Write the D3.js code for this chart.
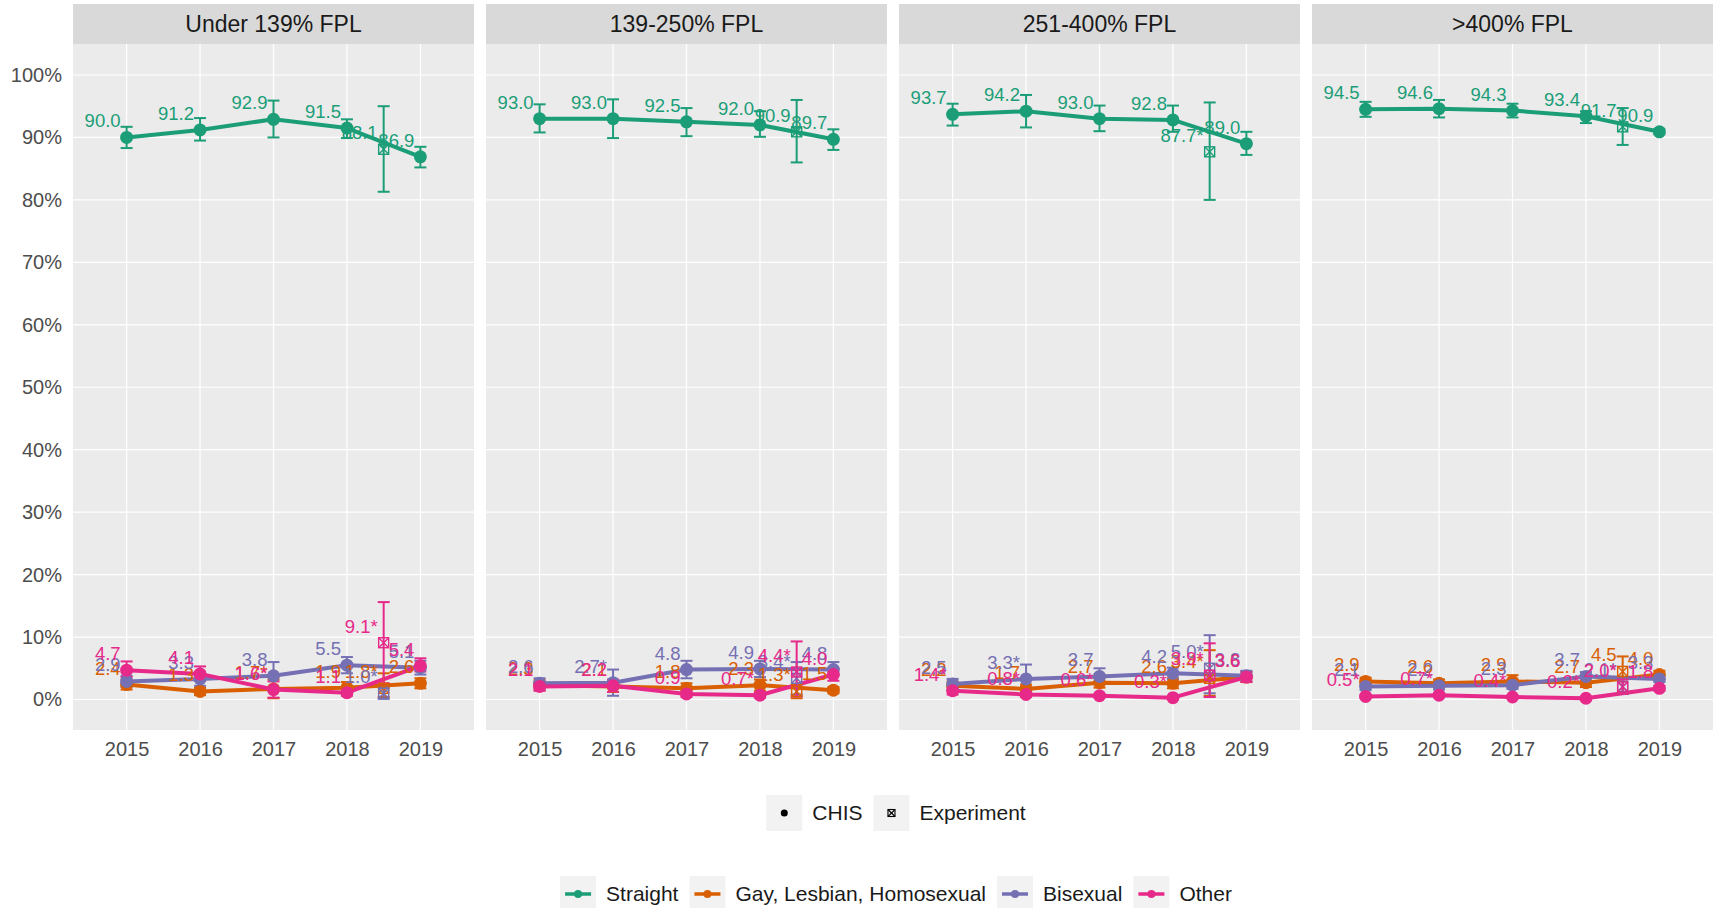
<!DOCTYPE html>
<html><head><meta charset="utf-8">
<script src="https://cdn.jsdelivr.net/npm/d3@7"></script>
<style>
body{margin:0;background:#fff;}
svg{display:block;font-family:"Liberation Sans",Arial,sans-serif;}
</style>
</head><body>
<svg id="chart" width="1713" height="908"></svg>
<script>
// ---------- data ----------
const years = [2015, 2016, 2017, 2018, 2019];
const experimentYear = 2018.5;
const panelNames = ["Under 139% FPL", "139-250% FPL", "251-400% FPL", ">400% FPL"];
const seriesNames = ["Straight", "Gay, Lesbian, Homosexual", "Bisexual", "Other"];
const seriesColors = ["#1B9E77", "#D95F02", "#7570B3", "#E7298A"];
const yTickValues = [0, 10, 20, 30, 40, 50, 60, 70, 80, 90, 100];
const shapeNames = ["CHIS", "Experiment"];

// CHIS estimates: one row per panel, one entry per year
const straightValue = [[90.0,91.2,92.9,91.5,86.9],[93.0,93.0,92.5,92.0,89.7],[93.7,94.2,93.0,92.8,89.0],[94.5,94.6,94.3,93.4,90.9]];
const straightLow   = [[88.3,89.5,90.0,89.9,85.2],[90.8,89.9,90.2,90.1,88.0],[91.9,91.6,91.0,90.9,87.2],[93.3,93.2,93.2,92.3,90.5]];
const straightHigh  = [[91.7,93.1,95.9,92.9,88.5],[95.3,96.1,94.7,94.2,91.3],[95.4,96.8,95.1,95.1,90.9],[95.7,96.0,95.4,94.2,91.3]];
const straightStar  = [[0,0,0,0,0],[0,0,0,0,0],[0,0,0,0,0],[0,0,0,0,0]];

const gayValue = [[2.4,1.3,1.7,1.9,2.6],[2.3,2.1,1.8,2.3,1.5],[2.2,1.7,2.7,2.6,3.6],[2.9,2.6,2.9,2.7,4.0]];
const gayLow   = [[1.6,0.7,0.2,1.0,1.8],[1.5,1.2,1.0,1.4,1.0],[1.5,1.0,1.9,1.8,2.8],[2.3,2.0,2.1,2.0,3.4]];
const gayHigh  = [[3.2,1.9,3.2,2.8,3.4],[3.1,3.0,2.6,3.2,2.0],[2.9,2.4,3.5,3.4,4.4],[3.5,3.2,3.9,3.4,4.6]];
const gayStar  = [[0,0,1,0,0],[0,0,0,0,0],[0,0,0,0,0],[0,0,0,0,0]];

const bisexualValue = [[2.9,3.3,3.8,5.5,5.1],[2.6,2.7,4.8,4.9,4.8],[2.5,3.3,3.7,4.2,3.8],[2.1,2.2,2.3,3.7,3.3]];
const bisexualLow   = [[2.0,2.2,1.6,4.2,4.0],[1.8,0.6,3.4,3.6,4.0],[1.7,2.0,2.6,3.3,3.0],[1.5,1.6,1.7,3.0,2.8]];
const bisexualHigh  = [[3.8,4.4,6.0,6.8,6.2],[3.4,4.8,6.2,6.2,6.0],[3.3,5.6,5.0,5.1,4.6],[2.7,2.8,2.9,4.4,3.8]];
const bisexualStar  = [[0,0,0,0,0],[0,1,0,0,0],[0,1,0,0,0],[0,0,0,0,0]];

const otherValue = [[4.7,4.1,1.6,1.1,5.4],[2.1,2.2,0.9,0.7,4.0],[1.4,0.8,0.6,0.3,3.6],[0.5,0.7,0.4,0.2,1.8]];
const otherLow   = [[3.6,3.0,0.3,0.6,4.5],[1.4,1.2,0.4,0.3,3.0],[0.8,0.4,0.3,0.1,2.8],[0.3,0.4,0.2,0.1,1.4]];
const otherHigh  = [[6.1,5.3,2.9,1.6,6.6],[2.8,3.2,1.4,1.1,5.0],[2.0,1.2,0.9,0.5,4.4],[0.7,1.0,0.6,0.3,2.2]];
const otherStar  = [[0,0,1,0,0],[0,0,0,1,0],[1,1,1,1,0],[1,1,1,1,0]];

// Experiment estimates: one entry per panel
const expStraightValue = [88.1, 90.9, 87.7, 91.7];
const expStraightLow   = [81.3, 86.0, 80.0, 88.8];
const expStraightHigh  = [95.0, 96.0, 95.6, 94.7];
const expStraightStar  = [0, 0, 1, 0];

const expGayValue = [1.8, 1.3, 3.4, 4.5];
const expGayLow   = [0.4, 0.2, 0.6, 1.0];
const expGayHigh  = [4.2, 2.4, 7.9, 6.9];
const expGayStar  = [1, 1, 1, 0];

const expBisexualValue = [1.0, 3.4, 5.0, 2.1];
const expBisexualLow   = [0.1, 0.8, 1.0, 0.9];
const expBisexualHigh  = [1.9, 6.0, 10.3, 3.3];
const expBisexualStar  = [1, 1, 1, 1];

const expOtherValue = [9.1, 4.4, 3.9, 2.0];
const expOtherLow   = [2.6, 0.5, 0.4, 0.9];
const expOtherHigh  = [15.6, 9.3, 9.0, 3.2];
const expOtherStar  = [1, 1, 1, 1];

// ---------- assemble ----------
const chisTables = [
  [straightValue, straightLow, straightHigh, straightStar],
  [gayValue, gayLow, gayHigh, gayStar],
  [bisexualValue, bisexualLow, bisexualHigh, bisexualStar],
  [otherValue, otherLow, otherHigh, otherStar]
];
const expTables = [
  [expStraightValue, expStraightLow, expStraightHigh, expStraightStar],
  [expGayValue, expGayLow, expGayHigh, expGayStar],
  [expBisexualValue, expBisexualLow, expBisexualHigh, expBisexualStar],
  [expOtherValue, expOtherLow, expOtherHigh, expOtherStar]
];

// ---------- layout ----------
const svg = d3.select("#chart");
const panelLeft0 = 73, panelW = 401, panelGap = 12;
const panelTop = 44, panelBottom = 730, stripTop = 4;
const y = d3.scaleLinear().domain([-4.88, 104.96]).range([panelBottom, panelTop]);
const fmt = d3.format(".1f");
const labelText = (v, s) => fmt(v) + (s ? "*" : "");

// y axis
const yAxisG = svg.append("g").attr("transform", `translate(${panelLeft0},0)`)
  .call(d3.axisLeft(y).tickValues(yTickValues).tickFormat(d => d + "%").tickSize(0).tickPadding(11));
yAxisG.select(".domain").remove();
yAxisG.selectAll("text").attr("font-size", 20).attr("fill", "#4D4D4D").attr("font-family", "Liberation Sans, Arial, sans-serif");

panelNames.forEach((pname, p) => {
  const left = panelLeft0 + p * (panelW + panelGap);
  const x = d3.scaleLinear().domain([2014.27, 2019.73]).range([left, left + panelW]);
  const g = svg.append("g");

  // background + strip
  g.append("rect").attr("x", left).attr("y", panelTop).attr("width", panelW).attr("height", panelBottom - panelTop).attr("fill", "#EBEBEB");
  g.append("rect").attr("x", left).attr("y", stripTop).attr("width", panelW).attr("height", panelTop - stripTop).attr("fill", "#D9D9D9");
  g.append("text").attr("x", left + panelW / 2).attr("y", (stripTop + panelTop) / 2).attr("dy", "0.35em")
    .attr("text-anchor", "middle").attr("font-size", 23).attr("fill", "#1A1A1A").text(pname);

  // grid
  g.selectAll(".hg").data(yTickValues).enter().append("line")
    .attr("x1", left).attr("x2", left + panelW).attr("y1", d => y(d)).attr("y2", d => y(d))
    .attr("stroke", "#fff").attr("stroke-width", 1.2);
  g.selectAll(".vg").data(years).enter().append("line")
    .attr("x1", d => x(d)).attr("x2", d => x(d)).attr("y1", panelTop).attr("y2", panelBottom)
    .attr("stroke", "#fff").attr("stroke-width", 1.2);

  // x axis
  const xa = svg.append("g").attr("transform", `translate(0,${panelBottom})`)
    .call(d3.axisBottom(x).tickValues(years).tickFormat(d3.format("d")).tickSize(0).tickPadding(12));
  xa.select(".domain").remove();
  xa.selectAll("text").attr("font-size", 20).attr("fill", "#4D4D4D").attr("font-family", "Liberation Sans, Arial, sans-serif");

  // per-series records
  const recs = seriesNames.map((sn, s) => {
    const [V, L, H, S] = chisTables[s];
    const [EV, EL, EH, ES] = expTables[s];
    return {
      s, color: seriesColors[s],
      chis: years.map((yr, i) => ({ x: yr, v: V[p][i], lo: L[p][i], hi: H[p][i], star: S[p][i] })),
      exp: { x: experimentYear, v: EV[p], lo: EL[p], hi: EH[p], star: ES[p] }
    };
  });

  const line = d3.line().x(d => x(d.x)).y(d => y(d.v));
  // lines
  recs.forEach(r => {
    g.append("path").datum(r.chis).attr("d", line).attr("fill", "none")
      .attr("stroke", r.color).attr("stroke-width", 4).attr("stroke-linejoin", "round");
  });
  // error bars
  const capW = 6;
  recs.forEach(r => {
    const pts = r.chis.concat([r.exp]);
    pts.forEach(d => {
      const cx = x(d.x);
      const eg = g.append("g").attr("stroke", r.color).attr("stroke-width", 2);
      eg.append("line").attr("x1", cx).attr("x2", cx).attr("y1", y(d.lo)).attr("y2", y(d.hi));
      eg.append("line").attr("x1", cx - capW).attr("x2", cx + capW).attr("y1", y(d.lo)).attr("y2", y(d.lo));
      eg.append("line").attr("x1", cx - capW).attr("x2", cx + capW).attr("y1", y(d.hi)).attr("y2", y(d.hi));
    });
  });
  // points
  recs.forEach(r => {
    g.selectAll(null).data(r.chis).enter().append("circle")
      .attr("cx", d => x(d.x)).attr("cy", d => y(d.v)).attr("r", 6.5).attr("fill", r.color);
    const cx = x(r.exp.x), cy = y(r.exp.v), h = 5;
    const mg = g.append("g").attr("stroke", r.color).attr("stroke-width", 1.4).attr("fill", "none");
    mg.append("rect").attr("x", cx - h).attr("y", cy - h).attr("width", 2 * h).attr("height", 2 * h);
    mg.append("line").attr("x1", cx - h).attr("y1", cy - h).attr("x2", cx + h).attr("y2", cy + h);
    mg.append("line").attr("x1", cx - h).attr("y1", cy + h).attr("x2", cx + h).attr("y2", cy - h);
  });
  // labels
  recs.forEach(r => {
    const pts = r.chis.concat([r.exp]);
    g.selectAll(null).data(pts).enter().append("text")
      .attr("x", d => x(d.x) - 6).attr("y", d => y(d.v) - 10)
      .attr("text-anchor", "end").attr("font-size", 18.5).attr("fill", r.color)
      .text(d => labelText(d.v, d.star));
  });
});

// ---------- legends ----------
function measure(t, size) {
  const tn = svg.append("text").attr("font-size", size).text(t);
  const w = tn.node().getComputedTextLength();
  tn.remove();
  return w;
}
const keySize = 36, keyTextGap = 10, itemGap = 11, legendFont = 21, legendCenter = 896;

function drawLegend(items, cy, drawKey) {
  const widths = items.map(t => measure(t, legendFont));
  const total = d3.sum(widths) + items.length * (keySize + keyTextGap) + (items.length - 1) * itemGap;
  let cx = legendCenter - total / 2;
  items.forEach((t, i) => {
    const kg = svg.append("g").attr("transform", `translate(${cx},${cy - keySize / 2})`);
    kg.append("rect").attr("width", keySize).attr("height", keySize).attr("fill", "#F2F2F2");
    drawKey(kg, i);
    svg.append("text").attr("x", cx + keySize + keyTextGap).attr("y", cy).attr("dy", "0.35em")
      .attr("font-size", legendFont).attr("fill", "#1A1A1A").text(t);
    cx += keySize + keyTextGap + widths[i] + itemGap;
  });
}

drawLegend(shapeNames, 813, (kg, i) => {
  const c = keySize / 2;
  if (i === 0) {
    kg.append("circle").attr("cx", c).attr("cy", c).attr("r", 3.5).attr("fill", "#000");
  } else {
    const h = 3.5;
    const mg = kg.append("g").attr("stroke", "#000").attr("stroke-width", 1.1).attr("fill", "none");
    mg.append("rect").attr("x", c - h).attr("y", c - h).attr("width", 2 * h).attr("height", 2 * h);
    mg.append("line").attr("x1", c - h).attr("y1", c - h).attr("x2", c + h).attr("y2", c + h);
    mg.append("line").attr("x1", c - h).attr("y1", c + h).attr("x2", c + h).attr("y2", c - h);
  }
});

drawLegend(seriesNames, 894, (kg, i) => {
  const c = keySize / 2;
  kg.append("line").attr("x1", 5).attr("x2", keySize - 5).attr("y1", c).attr("y2", c)
    .attr("stroke", seriesColors[i]).attr("stroke-width", 3.5);
  kg.append("circle").attr("cx", c).attr("cy", c).attr("r", 4).attr("fill", seriesColors[i]);
});
</script>
</body></html>
